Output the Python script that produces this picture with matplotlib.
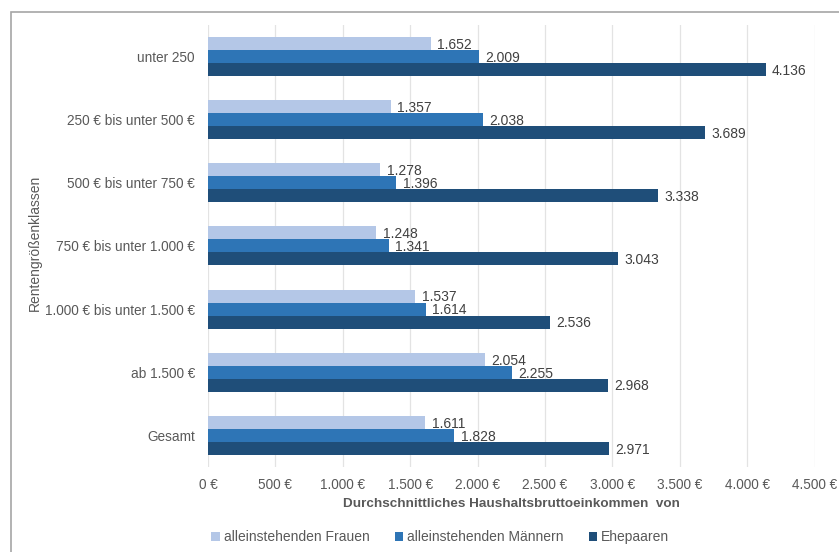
"""Durchschnittliches Haushaltsbruttoeinkommen nach Rentengrößenklassen."""

import matplotlib

matplotlib.use("Agg")
import matplotlib.pyplot as plt
import numpy as np
from matplotlib.patches import Rectangle
from matplotlib.ticker import FuncFormatter

CATEGORIES = [
    "unter 250",
    "250 € bis unter 500 €",
    "500 € bis unter 750 €",
    "750 € bis unter 1.000 €",
    "1.000 € bis unter 1.500 €",
    "ab 1.500 €",
    "Gesamt",
]
FRAUEN = [1652, 1357, 1278, 1248, 1537, 2054, 1611]
MAENNER = [2009, 2038, 1396, 1341, 1614, 2255, 1828]
EHEPAARE = [4136, 3689, 3338, 3043, 2536, 2968, 2971]

SERIES_LABELS = ["alleinstehenden Frauen", "alleinstehenden Männern", "Ehepaaren"]
COLORS = ["#b4c7e7", "#2e75b6", "#1f4e79"]
TEXT_COLOR = "#404040"
TICK_COLOR = "#595959"
BAR_H = 0.205

plt.rcParams["font.family"] = ["Liberation Sans", "DejaVu Sans"]


def _de_number(value: float) -> str:
    return f"{value:,.0f}".replace(",", ".")


fig = plt.figure(figsize=(8.39, 5.52), dpi=100)
ax = fig.add_axes([0.248, 0.154, 0.723, 0.801])

y = np.arange(len(CATEGORIES))
series = [FRAUEN, MAENNER, EHEPAARE]
for i, (values, label, color) in enumerate(zip(series, SERIES_LABELS, COLORS)):
    pos = y + (i - 1) * BAR_H
    ax.barh(pos, values, height=BAR_H, color=color, label=label, zorder=3)
    for yy, v in zip(pos, values):
        ax.text(v + 48, yy + 0.02, _de_number(v), va="center", ha="left",
                fontsize=10, color=TEXT_COLOR)

ax.set_xlim(0, 4500)
ax.set_ylim(len(CATEGORIES) - 0.5, -0.5)
ax.set_xticks(np.arange(0, 4501, 500))
ax.xaxis.set_major_formatter(FuncFormatter(lambda v, _: f"{_de_number(v)} €"))
ax.set_yticks(y)
ax.set_yticklabels(CATEGORIES)
ax.tick_params(axis="both", length=0, labelsize=9.8, labelcolor=TICK_COLOR)
ax.tick_params(axis="x", pad=8)
ax.tick_params(axis="y", pad=9.5)
ax.grid(axis="x", color="#e3e3e3", linewidth=0.9, zorder=0)
for spine in ax.spines.values():
    spine.set_visible(False)

ax.set_xlabel("Durchschnittliches Haushaltsbruttoeinkommen  von", fontsize=9.7,
              fontweight="bold", color=TICK_COLOR, labelpad=4)
fig.text(0.041, 0.56, "Rentengrößenklassen", rotation=90, ha="center", va="center",
         fontsize=10, color=TICK_COLOR)

ax.legend(loc="upper left", bbox_to_anchor=(-0.015, -0.115), ncol=3, frameon=False,
          fontsize=10, handlelength=0.6, handleheight=0.6, handletextpad=0.3,
          columnspacing=1.8, labelcolor=TICK_COLOR)

fig.patches.append(Rectangle((0.013, -0.01), 1.0, 0.989, transform=fig.transFigure,
                             fill=False, edgecolor="#a6a6a6", linewidth=1.2))

fig.savefig("out.png", dpi=100)
